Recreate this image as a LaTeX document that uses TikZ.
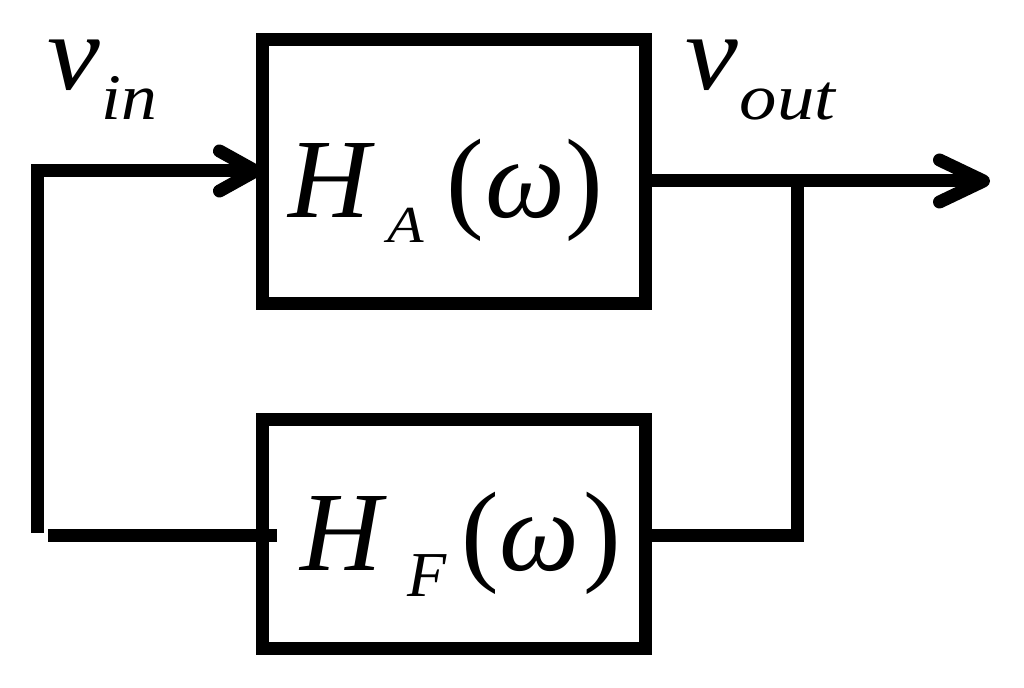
\documentclass[tikz,border=0pt]{standalone}
\usepackage{fontspec}
\setmainfont{Liberation Serif}
\usetikzlibrary{arrows.meta}
\newcommand\bigH{\fontsize{56.5pt}{60pt}\selectfont}
\newcommand\bigV{\fontsize{54pt}{56pt}\selectfont}
\newcommand\subV{\fontsize{32.5pt}{34pt}\selectfont}
\tikzset{
  box/.style={draw, line width=6.5pt, inner sep=0pt, outer sep=0pt, line join=miter, minimum width=191.5pt},
  wire/.style={line width=6.5pt, line join=miter, line cap=butt},
  lbl/.style={anchor=base west, inner sep=0pt, outer sep=0pt},
  intip/.style={-{Straight Barb[length=18pt, width=20pt, round]}},
  outtip/.style={-{Straight Barb[length=22pt, width=21pt, round]}}
}
\begin{document}
\begin{tikzpicture}[x=0.5pt, y=-0.5pt]
\useasboundingbox (0,0) rectangle (1024,688);
% boxes
\node[box, minimum height=132.25pt] (ha) at (453.5,171.75) {};
\node[box, minimum height=114.25pt] (hf) at (453.5,534.25) {};
% box texts
\node[lbl] (ta) at (288,218) {{\bigH\itshape H}\kern9pt\raisebox{-12.5pt}{\fontsize{26pt}{28pt}\selectfont\itshape\scalebox{1.15}[1]{A}}\kern11pt{\bigH(\kern1pt\textit{ω})}};
\node[lbl] (tf) at (300,571) {{\bigH\itshape H}\kern13pt\raisebox{-13pt}{\fontsize{32pt}{34pt}\selectfont\itshape F}\kern7.5pt{\bigH(\textit{ω}\kern2pt)}};
% signal labels
\node[lbl] (vin) at (47,90) {{\bigV\itshape\scalebox{1.1}[1]{v}}\kern1pt\raisebox{-15pt}{\subV\itshape\scalebox{1.1}[1]{in}}};
\node[lbl] (vout) at (685,90) {{\bigV\itshape\scalebox{1.1}[1]{v}}\kern1pt\raisebox{-15pt}{\subV\itshape\scalebox{1.15}[1]{out}}};
% coordinates
\coordinate (tl) at (37,171);
\coordinate (bl) at (37,533);
\coordinate (fb) at (48,536);
\coordinate (out) at (990,181);
\coordinate (j) at (797,181);
\coordinate (jb) at (797,536);
% connectors
\draw[wire, intip] (bl) -- (tl) -- (ha.west |- tl);
\draw[wire, outtip] (ha.east |- out) -- (out);
\draw[wire] (j) -- (jb) -- (hf.east |- jb);
\draw[wire] (fb) -- ([xshift=7.5pt]hf.west |- fb);
\end{tikzpicture}
\end{document}
